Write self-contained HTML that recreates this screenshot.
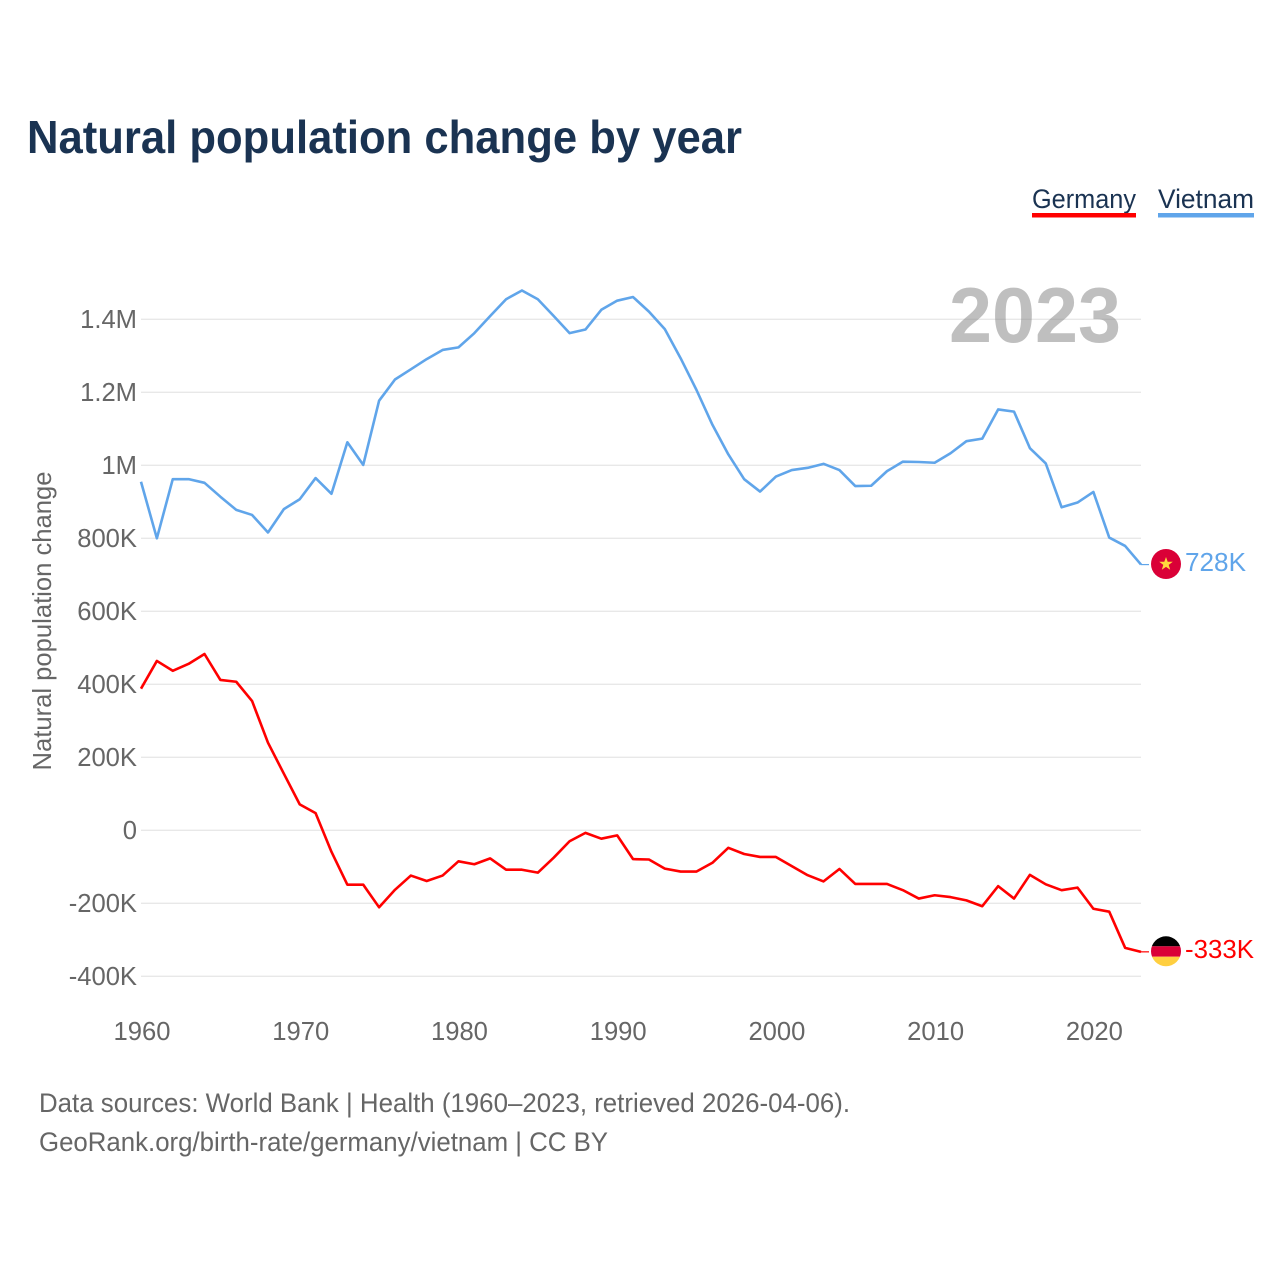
<!DOCTYPE html>
<html lang="en">
<head>
<meta charset="utf-8">
<title>Natural population change by year</title>
<style>
html,body{margin:0;padding:0;background:#fff;}
svg{display:block;font-family:"Liberation Sans",sans-serif;}
</style>
</head>
<body>
<svg id="chart" width="1280" height="1280" viewBox="0 0 1280 1280" xmlns="http://www.w3.org/2000/svg">
  <rect x="0" y="0" width="1280" height="1280" fill="#ffffff"/>
  <text x="27" y="153" font-size="46" font-weight="700" fill="#1a3352" textLength="715" lengthAdjust="spacingAndGlyphs">Natural population change by year</text>

  <g>
    <g>
      <text x="1032" y="208" font-size="26.5" fill="#1a3352" textLength="104" lengthAdjust="spacingAndGlyphs">Germany</text>
      <rect x="1032" y="213" width="104" height="4.5" fill="#ff0000"/>
    </g>
    <g>
      <text x="1158" y="208" font-size="26.5" fill="#1a3352" textLength="96" lengthAdjust="spacingAndGlyphs">Vietnam</text>
      <rect x="1158" y="213" width="96" height="4.5" fill="#60a5ea"/>
    </g>
  </g>

  <g id="grid"></g>
  <g id="yTicks"></g>
  <g id="xTicks"></g>

  <text transform="translate(51,621) rotate(-90)" text-anchor="middle" font-size="25.6" fill="#666666" textLength="299" lengthAdjust="spacingAndGlyphs">Natural population change</text>
  <text x="1121" y="342" text-anchor="end" font-size="78" font-weight="700" fill="#808080" fill-opacity="0.5" textLength="172" lengthAdjust="spacingAndGlyphs">2023</text>

  <g id="series"></g>

  <defs>
    <clipPath id="flagClipDe"><circle cx="1166" cy="951.3" r="15"/></clipPath>
  </defs>
  <g id="flagVn">
    <circle cx="1166" cy="564" r="15" fill="#da0037"/>
    <polygon fill="#ffd83d" points="1166,557 1167.7,561.8 1172.8,561.8 1168.7,564.9 1170.2,569.8 1166,566.9 1161.8,569.8 1163.3,564.9 1159.2,561.8 1164.3,561.8"/>
  </g>
  <g id="flagDe" clip-path="url(#flagClipDe)">
    <rect x="1151" y="936" width="30" height="10.3" fill="#000000"/>
    <rect x="1151" y="946.3" width="30" height="10.4" fill="#da0037"/>
    <rect x="1151" y="956.7" width="30" height="10" fill="#ffcf40"/>
  </g>

  <text id="endLabelVn" x="1185" y="571" font-size="25.6" fill="#60a5ea" textLength="61" lengthAdjust="spacingAndGlyphs"></text>
  <text id="endLabelDe" x="1185" y="958" font-size="25.6" fill="#ff0000" textLength="69" lengthAdjust="spacingAndGlyphs"></text>

  <text x="39" y="1112" font-size="26.5" fill="#666666" textLength="811" lengthAdjust="spacingAndGlyphs">Data sources: World Bank | Health (1960–2023, retrieved 2026-04-06).</text>
  <text x="39" y="1151" font-size="26.5" fill="#666666" textLength="569" lengthAdjust="spacingAndGlyphs">GeoRank.org/birth-rate/germany/vietnam | CC BY</text>
</svg>

<script>
const startYear = 1960;
const yTickValues = [-400000, -200000, 0, 200000, 400000, 600000, 800000, 1000000, 1200000, 1400000];
const yTickLabels = ["-400K", "-200K", "0", "200K", "400K", "600K", "800K", "1M", "1.2M", "1.4M"];
const xTickYears = [1960, 1970, 1980, 1990, 2000, 2010, 2020];
const vietnamValues = [
  955, 800, 962, 962, 952, 914, 878, 864, 816, 880,
  907, 965, 922, 1063, 1001, 1177, 1235, 1263, 1291, 1316,
  1323, 1362, 1409, 1455, 1479, 1455, 1409, 1362, 1372, 1426,
  1451, 1461, 1421, 1373, 1293, 1206, 1111, 1030, 962, 928,
  969, 987, 993, 1004, 987, 943, 944, 984, 1010, 1009,
  1007, 1033, 1066, 1073, 1153, 1147, 1047, 1005, 885, 898,
  927, 802, 779, 728
];
const germanyValues = [
  388, 464, 437, 456, 483, 412, 407, 354, 240, 155,
  71, 47, -59, -149, -149, -211, -163, -124, -139, -124,
  -85, -93, -77, -108, -108, -116, -75, -30, -7, -23,
  -14, -79, -80, -105, -113, -113, -89, -48, -65, -73,
  -73, -98, -123, -140, -106, -147, -147, -147, -164, -187,
  -178, -183, -192, -208, -153, -187, -122, -148, -164, -157,
  -215, -223, -322, -333
];
const unitScale = 1000;

const NS = "http://www.w3.org/2000/svg";
const xLeft = 141, xPerYear = 1000 / 63;
const yZero = 830.3, yPerUnit = 73 / 200000;
function xScale(year) { return xLeft + (year - startYear) * xPerYear; }
function yScale(value) { return yZero - value * yPerUnit; }
function fmtEnd(v) { return Math.round(v) + "K"; }

const gridGroup = document.getElementById("grid");
const yGroup = document.getElementById("yTicks");
const xGroup = document.getElementById("xTicks");
const seriesGroup = document.getElementById("series");

yTickValues.forEach(function (v, i) {
  const line = document.createElementNS(NS, "line");
  line.setAttribute("x1", xScale(startYear));
  line.setAttribute("x2", xScale(startYear + 63));
  line.setAttribute("y1", yScale(v));
  line.setAttribute("y2", yScale(v));
  line.setAttribute("stroke", "#e8e8e8");
  line.setAttribute("stroke-width", "1.3");
  
  
  gridGroup.appendChild(line);

  const label = document.createElementNS(NS, "text");
  label.setAttribute("x", 137);
  label.setAttribute("y", yScale(v) + 8.5);
  label.setAttribute("text-anchor", "end");
  label.setAttribute("font-size", "25.6");
  label.setAttribute("fill", "#666666");
  label.textContent = yTickLabels[i];
  
  
  yGroup.appendChild(label);
});

xTickYears.forEach(function (year) {
  const label = document.createElementNS(NS, "text");
  label.setAttribute("x", xScale(year) + 1);
  label.setAttribute("y", 1040);
  label.setAttribute("text-anchor", "middle");
  label.setAttribute("font-size", "25.6");
  label.setAttribute("fill", "#666666");
  label.textContent = String(year);
  
  
  xGroup.appendChild(label);
});

function linePoints(values) {
  return values.map(function (v, i) {
    return xScale(startYear + i).toFixed(2) + "," + yScale(v * unitScale).toFixed(2);
  }).join(" ");
}

function drawSeries(values, color, lineName, connectorName) {
  const poly = document.createElementNS(NS, "polyline");
  poly.setAttribute("points", linePoints(values));
  poly.setAttribute("fill", "none");
  poly.setAttribute("stroke", color);
  poly.setAttribute("stroke-width", "2.6");
  poly.setAttribute("stroke-linejoin", "round");
  
  
  seriesGroup.appendChild(poly);

  const last = values[values.length - 1];
  const lastX = xScale(startYear + values.length - 1);
  const connector = document.createElementNS(NS, "line");
  connector.setAttribute("x1", lastX);
  connector.setAttribute("x2", lastX + 8);
  connector.setAttribute("y1", yScale(last * unitScale));
  connector.setAttribute("y2", yScale(last * unitScale));
  connector.setAttribute("stroke", color);
  connector.setAttribute("stroke-width", "1.2");
  
  
  seriesGroup.appendChild(connector);
}

drawSeries(vietnamValues, "#60a5ea", "line-vietnam", "connector-vietnam");
drawSeries(germanyValues, "#ff0000", "line-germany", "connector-germany");

document.getElementById("endLabelVn").textContent = fmtEnd(vietnamValues[vietnamValues.length - 1]);
document.getElementById("endLabelDe").textContent = fmtEnd(germanyValues[germanyValues.length - 1]);
</script>
</body>
</html>
